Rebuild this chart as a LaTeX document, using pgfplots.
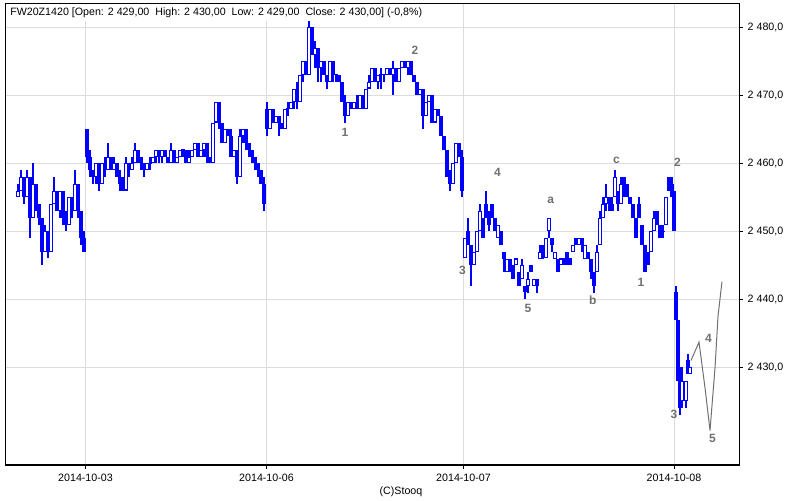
\documentclass[border=0pt]{standalone}
\usepackage{fontspec}
\setmainfont{Liberation Sans}
\usepackage{pgfplots}
\usepackage{pgfplotstable}
\pgfplotsset{compat=1.18}
\definecolor{gridgray}{HTML}{DCDCDC}
\definecolor{wavegray}{HTML}{707070}

% intraday candles: x position, open, close, high, low
\pgfplotstableread{
x o c h l
18 2455 2456 2457 2455
21 2456 2458 2459 2456
24 2458 2455 2458 2454
27 2455 2458 2459 2455
30 2458 2452 2458 2449
33 2452 2457 2460 2452
36 2457 2454 2457 2453
39 2454 2452 2454 2451
42 2452 2447 2452 2445
45 2447 2450 2451 2447
48 2450 2447 2450 2446
51 2447 2454 2454 2447
54 2454 2456 2458 2454
57 2456 2453 2456 2453
60 2453 2456 2456 2452
63 2456 2452 2456 2451
66 2452 2451 2453 2450
69 2451 2455 2455 2451
72 2455 2453 2455 2452
75 2453 2457 2459 2453
78 2457 2453 2457 2452
81 2453 2449 2453 2448
84 2449 2447 2450 2447
87 2465 2461 2465 2460
90 2461 2459 2462 2458
93 2459 2458 2459 2457
96 2458 2460 2460 2457
99 2460 2457 2460 2456
102 2457 2460 2460 2457
105 2460 2459 2461 2458
108 2459 2461 2463 2459
111 2461 2459 2461 2459
114 2459 2460 2461 2459
117 2460 2458 2460 2458
120 2458 2457 2459 2456
123 2457 2456 2458 2456
126 2456 2460 2461 2456
129 2460 2459 2460 2458
132 2459 2460 2461 2459
135 2460 2462 2463 2460
138 2462 2461 2462 2460
141 2461 2460 2461 2459
144 2460 2459 2460 2458
147 2459 2460 2460 2459
150 2460 2460 2461 2459
153 2460 2461 2461 2460
156 2461 2462 2462 2460
159 2462 2461 2462 2460
162 2461 2462 2462 2460
165 2462 2461 2462 2461
168 2461 2460 2461 2460
171 2460 2462 2463 2460
174 2462 2460 2462 2460
177 2460 2461 2461 2460
180 2461 2462 2462 2461
183 2462 2462 2462 2461
186 2462 2460 2462 2460
189 2460 2461 2462 2460
192 2461 2462 2462 2461
195 2462 2463 2463 2462
198 2463 2461 2463 2461
201 2461 2462 2462 2461
204 2462 2463 2463 2461
207 2463 2461 2463 2460
210 2461 2460 2461 2460
213 2460 2466 2466 2460
216 2466 2469 2469 2466
219 2469 2466 2469 2465
222 2466 2463 2466 2463
225 2463 2465 2465 2463
228 2465 2464 2465 2464
231 2464 2461 2465 2461
234 2461 2462 2462 2461
237 2462 2458 2462 2457
240 2458 2464 2465 2458
243 2464 2465 2465 2463
246 2465 2463 2465 2462
249 2463 2462 2463 2461
252 2462 2461 2462 2460
255 2461 2460 2461 2459
258 2460 2459 2460 2458
261 2459 2457 2459 2457
264 2457 2454 2458 2453
267 2468 2465 2469 2464
270 2465 2468 2468 2465
273 2468 2466 2468 2466
276 2466 2467 2467 2466
279 2467 2466 2467 2464
282 2466 2465 2466 2465
285 2465 2468 2468 2465
288 2468 2468 2469 2467
291 2468 2469 2469 2468
294 2469 2471 2471 2468
297 2471 2469 2472 2468
300 2469 2473 2473 2469
303 2473 2475 2475 2472
306 2475 2473 2475 2473
309 2473 2480 2481 2473
312 2480 2476 2480 2476
315 2476 2477 2478 2474
318 2477 2474 2477 2472
321 2474 2475 2475 2472
324 2475 2473 2475 2473
327 2473 2472 2473 2471
330 2472 2475 2475 2472
333 2475 2473 2475 2472
336 2473 2473 2473 2472
339 2473 2472 2473 2472
342 2472 2469 2472 2469
345 2469 2467 2470 2466
348 2467 2469 2469 2467
351 2469 2468 2469 2468
354 2468 2469 2469 2468
357 2469 2468 2470 2468
360 2468 2470 2470 2468
363 2470 2468 2470 2468
366 2468 2471 2471 2468
369 2471 2472 2473 2471
372 2472 2474 2474 2472
375 2474 2472 2474 2472
378 2472 2473 2473 2471
381 2473 2473 2474 2471
384 2473 2473 2473 2472
387 2473 2474 2474 2473
390 2474 2473 2474 2473
393 2473 2474 2475 2470
396 2474 2472 2474 2472
399 2472 2474 2474 2472
402 2474 2475 2475 2474
405 2475 2474 2475 2474
408 2474 2475 2475 2473
411 2475 2473 2475 2473
414 2473 2472 2473 2472
417 2472 2470 2472 2470
420 2470 2471 2471 2470
423 2471 2467 2471 2465
426 2467 2469 2469 2467
429 2469 2470 2470 2469
432 2470 2466 2470 2466
435 2466 2468 2468 2466
438 2468 2467 2468 2467
441 2467 2464 2467 2464
444 2464 2462 2464 2462
447 2462 2458 2462 2458
450 2458 2457 2459 2456
453 2457 2460 2460 2457
456 2460 2463 2463 2460
459 2463 2461 2463 2461
462 2461 2456 2462 2455
465 2446 2449 2449 2446
468 2450 2448 2452 2448
471 2448 2445 2448 2442
474 2445 2447 2447 2445
477 2447 2450 2450 2447
480 2450 2453 2454 2450
483 2452 2449 2452 2449
486 2454 2452 2456 2452
489 2453 2451 2453 2450
492 2454 2452 2454 2452
495 2452 2450 2452 2450
498 2449 2451 2451 2449
501 2450 2448 2450 2448
504 2447 2446 2447 2444
507 2444 2446 2446 2444
510 2446 2444 2446 2444
513 2445 2443 2445 2443
516 2445 2446 2446 2445
519 2444 2442 2444 2442
522 2443 2445 2446 2443
525 2442 2441 2442 2440
528 2442 2443 2444 2441
531 2445 2444 2445 2444
534 2442 2443 2443 2442
537 2443 2442 2443 2441
540 2446 2447 2448 2446
543 2448 2447 2448 2446
546 2446 2449 2449 2446
549 2450 2452 2452 2449
552 2449 2448 2449 2447
555 2446 2447 2447 2446
558 2446 2444 2446 2444
561 2445 2446 2446 2445
564 2446 2446 2446 2445
567 2447 2445 2447 2445
570 2446 2445 2446 2445
573 2447 2448 2448 2447
576 2449 2448 2449 2448
579 2448 2449 2449 2448
582 2449 2448 2449 2447
585 2446 2448 2448 2446
588 2447 2446 2447 2446
591 2446 2444 2446 2443
594 2444 2442 2444 2441
597 2444 2447 2448 2444
600 2448 2452 2453 2448
603 2452 2454 2455 2452
606 2454 2455 2457 2453
609 2455 2454 2455 2453
612 2454 2453 2455 2453
615 2455 2458 2459 2455
618 2456 2454 2456 2453
621 2454 2457 2458 2454
624 2458 2456 2458 2455
627 2457 2455 2457 2455
630 2455 2454 2455 2454
633 2454 2452 2454 2452
636 2452 2449 2452 2449
639 2454 2452 2455 2452
642 2451 2448 2451 2448
645 2448 2444 2448 2444
648 2447 2445 2447 2445
651 2447 2450 2450 2447
654 2450 2452 2453 2450
657 2453 2451 2453 2451
660 2451 2449 2451 2449
663 2450 2450 2451 2449
666 2451 2455 2455 2451
669 2458 2456 2458 2456
672 2457 2455 2458 2455
674 2456 2450 2456 2450
676 2441 2437 2442 2437
678 2437 2428 2437 2428
680 2428 2424 2430 2423
682 2425 2428 2430 2424
684 2428 2425 2428 2425
686 2425 2428 2428 2424
688 2431 2429 2432 2429
690 2429 2430 2430 2429
}\candles

% projected wave path
\pgfplotstableread{
x y
691 2431
699 2433.7
705 2427
710 2420.7
715 2429.9
718 2437.5
722 2442.6
}\projection

\begin{document}
\begin{tikzpicture}[font=\fontsize{8}{9.6}\selectfont]
\path[use as bounding box] (-4.5pt,-26.25pt) rectangle (595.5pt,348.75pt);
\begin{axis}[
  scale only axis, width=549.75pt, height=345.75pt,
  xmin=6, xmax=739, ymin=2415.63, ymax=2483.43,
  axis line style={black, line width=0.75pt},
  xtick={85.5,266.5,463.5,674},
  xticklabels={2014-10-03,2014-10-06,2014-10-07,2014-10-08},
  ytick={2430,2440,...,2480},
  yticklabels={{2 430,0},{2 440,0},{2 450,0},{2 460,0},{2 470,0},{2 480,0}},
  xtick pos=left, ytick pos=right, yticklabel pos=right,
  tick align=outside, major tick length=3pt,
  tick style={black, line width=0.75pt},
  grid=major, major grid style={gridgray, line width=0.75pt},
  ticklabel style={font=\fontsize{8}{9.6}\selectfont},
  error bars/error mark=none,
]
% wicks
\addplot[draw=none, mark=none,
  error bars/.cd, y dir=both, y explicit, error bar style={draw=blue, line width=0.8pt}]
  table[x=x, y expr={(\thisrow{h}+\thisrow{l})/2}, y error expr={(\thisrow{h}-\thisrow{l})/2}] {\candles};
% falling candles, filled
\addplot[draw=none, mark=none,
  restrict expr to domain={\thisrow{c}-\thisrow{o}}{-100:-0.5},
  error bars/.cd, y dir=both, y explicit, error bar style={draw=blue, line width=2.7pt}]
  table[x=x, y expr={(\thisrow{o}+\thisrow{c})/2}, y error expr={abs(\thisrow{c}-\thisrow{o})/2}] {\candles};
% rising candles, hollow
\addplot[draw=none, mark=none,
  restrict expr to domain={\thisrow{c}-\thisrow{o}}{0.5:100},
  error bars/.cd, y dir=both, y explicit, error bar style={draw=blue, line width=2.7pt}]
  table[x=x, y expr={(\thisrow{o}+\thisrow{c})/2}, y error expr={(\thisrow{c}-\thisrow{o})/2}] {\candles};
\addplot[draw=none, mark=none,
  restrict expr to domain={\thisrow{c}-\thisrow{o}}{0.5:100},
  error bars/.cd, y dir=both, y explicit, error bar style={draw=white, line width=1.1pt}]
  table[x=x, y expr={(\thisrow{o}+\thisrow{c})/2}, y error expr={(\thisrow{c}-\thisrow{o})/2-0.15}] {\candles};
% unchanged candles
\addplot[blue, only marks, mark=-, mark size=1.4pt, mark options={line width=0.8pt},
  restrict expr to domain={\thisrow{c}-\thisrow{o}}{-0.5:0.5}]
  table[x=x, y=o] {\candles};
% projection
\addplot[wavegray, line width=0.75pt, mark=none] table[x=x, y=y] {\projection};

\node[anchor=west, fill=white, inner xsep=3pt, inner ysep=2pt] at (axis cs:6,2482.1)
  {FW20Z1420 [Open: 2 429,00~~High: 2 430,00~~Low: 2 429,00~~Close: 2 430,00] (-0,8\%)};
\begin{scope}[every node/.style={text=wavegray, font=\bfseries\fontsize{9}{10}\selectfont}]
\node at (axis cs:345,2464.5) {1};
\node at (axis cs:415,2476.6) {2};
\node at (axis cs:462.5,2444.2) {3};
\node at (axis cs:497.5,2458.7) {4};
\node at (axis cs:528,2438.6) {5};
\node at (axis cs:550.7,2454.5) {a};
\node at (axis cs:592.7,2439.8) {b};
\node at (axis cs:616.5,2460.5) {c};
\node at (axis cs:641,2442.5) {1};
\node at (axis cs:677.5,2460.1) {2};
\node at (axis cs:674,2423.1) {3};
\node at (axis cs:708.5,2434.2) {4};
\node at (axis cs:712.5,2419.5) {5};
\end{scope}
\end{axis}
\node at (296.25pt,-20.25pt) {(C)Stooq};
\end{tikzpicture}
\end{document}
